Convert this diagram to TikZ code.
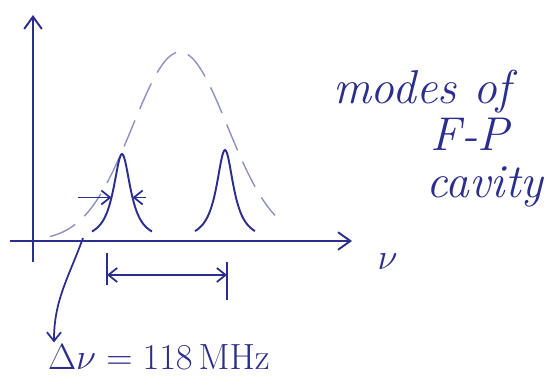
\documentclass[tikz,border=0pt]{standalone}
\usepackage{xcolor}
\definecolor{inkblue}{HTML}{2B2E8C}
\definecolor{inkfaint}{HTML}{8E90C4}
\usepackage{tikz}
\usetikzlibrary{arrows.meta,positioning,calc}
\tikzset{
  inkaxis/.style={draw=inkblue, line width=1.1pt,
    -{Straight Barb[length=7pt,width=10pt]}},
  inkpeak/.style={draw=inkblue, line width=1.1pt},
  inkenv/.style={draw=inkfaint, line width=0.8pt,
    dash pattern=on 16pt off 7pt},
  inkdim/.style={draw=inkblue, line width=1.0pt,
    -{Straight Barb[length=5pt,width=8pt]}},
  inkdimboth/.style={draw=inkblue, line width=1.0pt,
    {Straight Barb[length=5pt,width=8pt]}-{Straight Barb[length=5pt,width=8pt]}},
  inktick/.style={draw=inkblue, line width=1.0pt},
  inklabel/.style={text=inkblue, font=\huge\itshape, inner sep=1pt},
  inknote/.style={text=inkblue, font=\fontsize{27}{32}\selectfont\itshape,
    inner sep=0pt}
}

\begin{document}
\begin{tikzpicture}
  \useasboundingbox (0,0) rectangle (11.02,7.74);

  %% ---- axes ----
  \coordinate (y_bot) at (0.66,2.5);
  \coordinate (y_top) at (0.66,7.44);
  \coordinate (x_left) at (0.2,2.92);
  \coordinate (x_right) at (7.04,2.92);
  \draw[inkaxis] (y_bot) -- (y_top);
  \draw[inkaxis] (x_left) -- (x_right);
  \node[inklabel] (nu) at (7.75,2.5) {$\nu$};

  %% ---- envelope ----
  \draw[inkenv] plot[domain=1.0:5.5, samples=80, smooth]
    (\x,{2.92+3.78*exp(-((\x-3.6)^2)/(2*0.95^2))});

  %% ---- cavity modes ----
  \draw[inkpeak] plot[domain=-0.6:0.6, samples=61, smooth]
    ({2.44+\x},{2.92+1.74/(1+(\x/0.21)^2)});
  \draw[inkpeak] plot[domain=-0.6:0.6, samples=61, smooth]
    ({4.5+\x},{2.92+1.82/(1+(\x/0.21)^2)});

  %% ---- linewidth ----
  \coordinate (w_l) at (1.56,3.79);
  \coordinate (w_le) at (2.23,3.79);
  \coordinate (w_r) at (2.92,3.79);
  \coordinate (w_re) at (2.65,3.79);
  \draw[inkdim] (w_l) -- (w_le);
  \draw[inkdim] (w_r) -- (w_re);

  %% ---- mode spacing ----
  \coordinate (t1_top) at (2.14,2.68);
  \coordinate (t1_bot) at (2.14,2.04);
  \coordinate (t2_top) at (4.54,2.5);
  \coordinate (t2_bot) at (4.54,1.74);
  \draw[inktick] (t1_top) -- (t1_bot);
  \draw[inktick] (t2_top) -- (t2_bot);
  \draw[inkdimboth] (t1_top |- 0,2.24) -- (t2_top |- 0,2.24);

  %% ---- labels ----
  \node[inklabel] (dnu) at (3.18,0.6)
    {$\Delta\nu = 118\,\mathrm{MHz}$};
  \coordinate (p1_foot) at (1.66,2.98);
  \draw[inkdim] (p1_foot) to[out=250,in=90] ([xshift=0.16cm]dnu.north west);

  \node[inknote] (modes) at (8.44,5.9) {modes of};
  \node[inknote] (fp) at (9.4,5.06) {F-P};
  \node[inknote] (cav) at (9.7,4.0) {cavity};

\end{tikzpicture}
\end{document}
